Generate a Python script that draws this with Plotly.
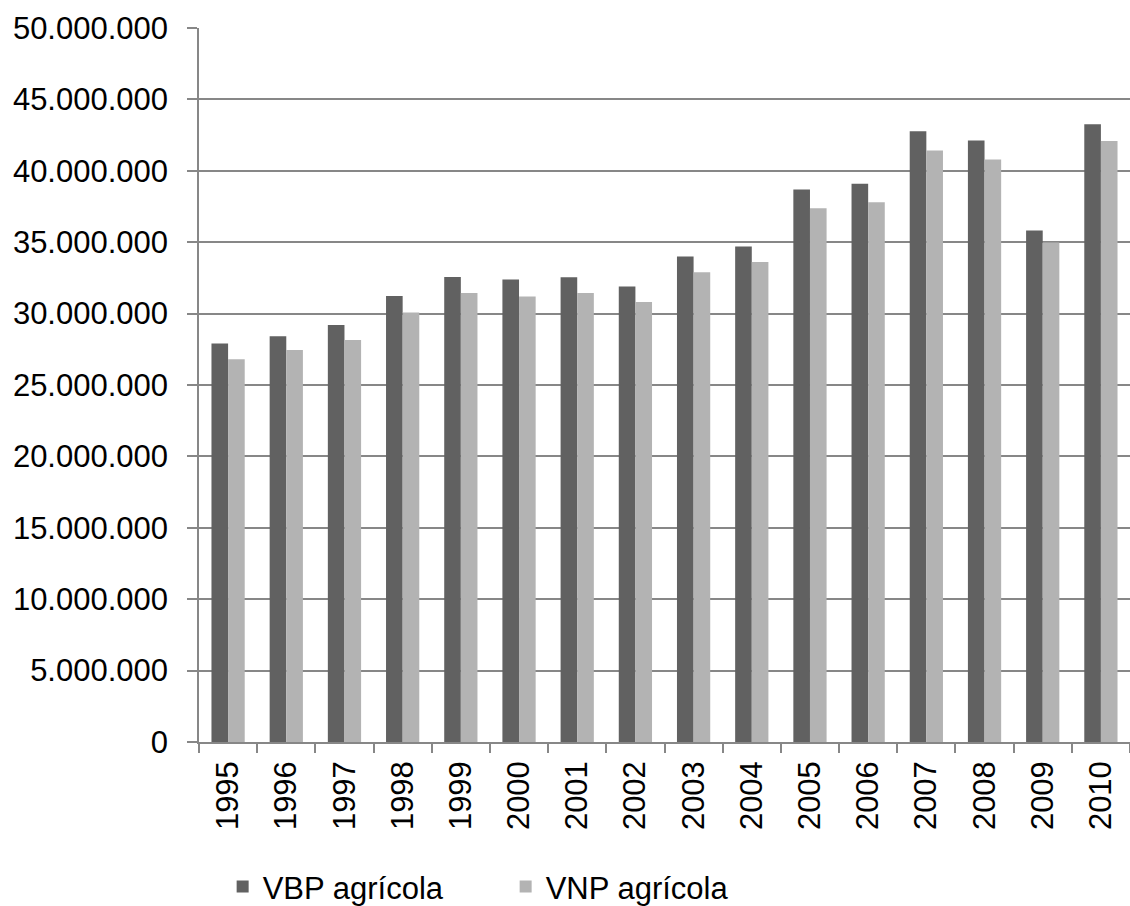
import plotly.graph_objects as go

years = [str(y) for y in range(1995, 2011)]
vbp_agricola = [27.9, 28.41, 29.2, 31.24, 32.57, 32.38, 32.55, 31.89,
                33.99, 34.70, 38.69, 39.09, 42.77, 42.12, 35.82, 43.26]
vnp_agricola = [26.8, 27.45, 28.15, 30.07, 31.45, 31.19, 31.45, 30.82,
                32.89, 33.62, 37.38, 37.80, 41.42, 40.79, 34.98, 42.08]
vbp_agricola = [v * 1e6 for v in vbp_agricola]
vnp_agricola = [v * 1e6 for v in vnp_agricola]

y_ticks = list(range(0, 50_000_001, 5_000_000))
y_tick_text = ["{:,}".format(v).replace(",", ".") for v in y_ticks]

FONT = "Liberation Sans, Arial, sans-serif"
GRID = "#878787"

fig = go.Figure()
fig.add_trace(go.Bar(x=years, y=vbp_agricola, name="VBP agrícola",
                     marker=dict(color="#616161", line=dict(width=0))))
fig.add_trace(go.Bar(x=years, y=vnp_agricola, name="VNP agrícola",
                     marker=dict(color="#b3b3b3", line=dict(width=0))))

fig.update_layout(
    width=1130, height=906,
    margin=dict(l=199, r=0, t=28, b=164, autoexpand=False),
    paper_bgcolor="white", plot_bgcolor="white",
    barmode="group", bargap=0.4286, bargroupgap=0,
    font=dict(family=FONT, size=31, color="black"),
    showlegend=True,
    legend=dict(orientation="h", x=0.0254, xanchor="left", y=-0.165, yanchor="top",
                font=dict(size=31), entrywidth=238, entrywidthmode="pixels",
                itemsizing="constant"),
)
fig.update_xaxes(
    type="category", tickangle=-90, tickson="boundaries",
    ticks="outside", ticklen=9, tickcolor=GRID, tickwidth=1.5,
    showline=True, linecolor=GRID, linewidth=1.5,
    showgrid=False, ticklabelstandoff=5, automargin=False,
)
fig.update_yaxes(
    range=[0, 50_000_000], tickvals=y_ticks, ticktext=y_tick_text,
    ticks="outside", ticklen=10, tickcolor=GRID, tickwidth=1.5,
    showline=True, linecolor=GRID, linewidth=1.5,
    showgrid=True, gridcolor=GRID, gridwidth=1.5,
    zeroline=False, ticklabelstandoff=13, automargin=False,
)

fig.write_html("out.html")
